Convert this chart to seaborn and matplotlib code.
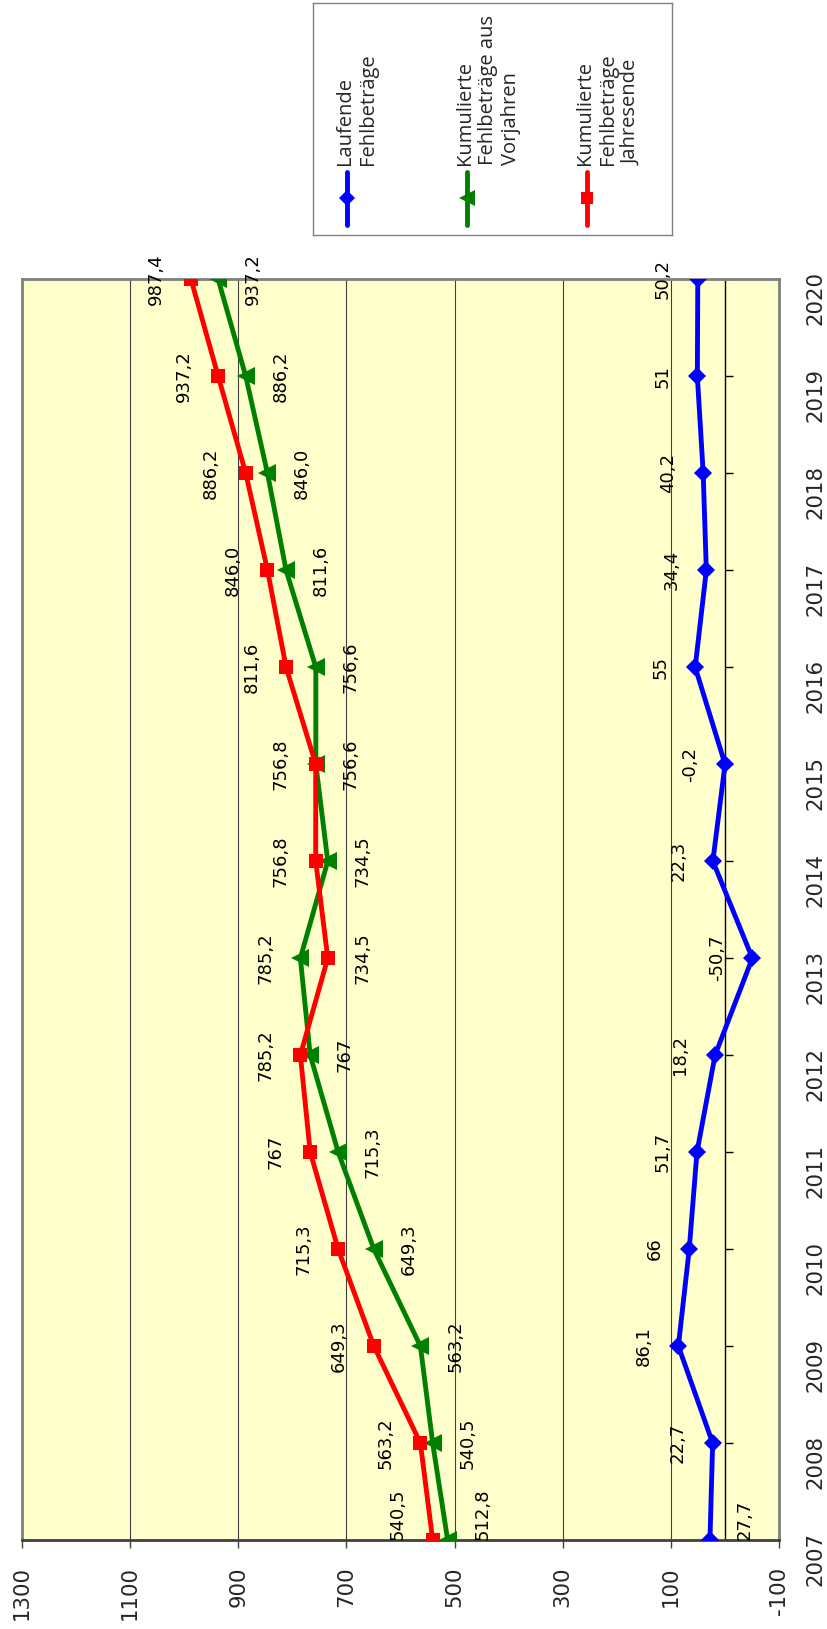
import pandas as pd
import seaborn as sns
import matplotlib.pyplot as plt

years = list(range(2007, 2021))
laufend = [27.7, 22.7, 86.1, 66, 51.7, 18.2, -50.7, 22.3, -0.2, 55, 34.4, 40.2, 51, 50.2]
vorjahre = [512.8, 540.5, 563.2, 649.3, 715.3, 767, 785.2, 734.5, 756.6, 756.6, 811.6, 846.0, 886.2, 937.2]
jahresende = [540.5, 563.2, 649.3, 715.3, 767, 785.2, 734.5, 756.8, 756.8, 811.6, 846.0, 886.2, 937.2, 987.4]

lbl_laufend = ["27,7", "22,7", "86,1", "66", "51,7", "18,2", "-50,7", "22,3", "-0,2", "55", "34,4", "40,2", "51", "50,2"]
lbl_vorjahre = ["512,8", "540,5", "563,2", "649,3", "715,3", "767", "785,2", "734,5", "756,6", "756,6", "811,6", "846,0", "886,2", "937,2"]
lbl_jahresende = ["540,5", "563,2", "649,3", "715,3", "767", "785,2", "734,5", "756,8", "756,8", "811,6", "846,0", "886,2", "937,2", "987,4"]

value_ticks = [1300, 1100, 900, 700, 500, 300, 100, -100]
value_labels = ["1300", "1100", "900", "700", "500", "300", "100", "-100"]

legend_names = ["Laufende\nFehlbeträge", "Kumulierte\nFehlbeträge aus\nVorjahren", "Kumulierte\nFehlbeträge\nJahresende"]

sns.set_theme(style="white")
plt.rcParams["font.family"] = ["DejaVu Sans"]

W, H = 827, 1629
fig = plt.figure(figsize=(W / 100, H / 100), dpi=100)
ax = fig.add_axes([22 / W, 89 / H, 757 / W, 1260.7 / H])
ax.set_facecolor("#FFFFCC")

series = [
    ("blau", laufend, lbl_laufend, "#0000FF", "D", 9.5),
    ("gruen", vorjahre, lbl_vorjahre, "#008000", "<", 13),
    ("rot", jahresende, lbl_jahresende, "#FF0000", "s", 10.5),
]

OFF = 25  # label distance from the marker, points
for name, vals, lbls, col, mk, ms in series:
    df = pd.DataFrame({"Jahr": years, "Wert": vals})
    sns.lineplot(data=df, x="Wert", y="Jahr", orient="y", color=col, marker=mk,
                 markersize=ms, markeredgewidth=0, lw=3.5, ax=ax, zorder=4)
    for i, (y, v, t) in enumerate(zip(years, vals, lbls)):
        if name == "blau":
            side = 1 if i == 0 else -1
        else:
            # the higher of the two cumulative lines gets its label on the left
            other = vorjahre[i] if name == "rot" else jahresende[i]
            higher = v > other or (v == other and name == "rot") or (name == "rot" and v >= other)
            side = -1 if higher else 1
        va = "bottom" if i == 0 else "center"
        ax.annotate(t, (v, y), xytext=(side * OFF, 0), textcoords="offset points",
                    rotation=90, ha="center", va=va, fontsize=13,
                    color="black", annotation_clip=False, zorder=5)

ax.set_xlim(1300, -100)
ax.set_ylim(2007, 2020)

for v in value_ticks:
    ax.axvline(v, color="#404040", lw=0.8, zorder=1)
ax.axvline(0, color="black", lw=1, zorder=2)
ax.hlines(years, 0, -15, color="black", lw=1, zorder=2)

ax.set_xticks(value_ticks)
ax.set_xticklabels(value_labels)
ax.set_yticks(years)
ax.set_yticklabels([str(y) for y in years])
ax.yaxis.tick_right()
ax.tick_params(axis="x", bottom=True, length=6, width=1, color="#404040",
               direction="out", pad=13, labelrotation=90, labelsize=15.3)
ax.tick_params(axis="y", length=0, pad=19, labelrotation=90, labelsize=15.3)
ax.set_xlabel("")
ax.set_ylabel("")

for s in ["top", "left", "right"]:
    ax.spines[s].set_color("#808080")
    ax.spines[s].set_linewidth(2)
ax.spines["bottom"].set_color("#404040")
ax.spines["bottom"].set_linewidth(2)

# legend, drawn by hand because it is rotated
lax = fig.add_axes([312.7 / W, 1 - 235 / H, 359.3 / W, 231.7 / H])
lax.set_xlim(312.7, 672)
lax.set_ylim(235, 3.3)
lax.set_xticks([])
lax.set_yticks([])
lax.set_facecolor("white")
for s in lax.spines.values():
    s.set_color("#808080")
    s.set_linewidth(1)
for i, (name, vals, lbls, col, mk, ms) in enumerate(series):
    x = 346.7 + 120 * i
    lax.plot([x, x, x], [172, 198, 225], color=col, lw=3.5, marker=mk,
             markersize=ms * 0.85, markeredgewidth=0, markevery=[1],
             solid_capstyle="round")
    lax.text(x - 12, 165, legend_names[i], rotation=90, ha="left", va="bottom",
             fontsize=14.5, linespacing=1.22, family=["Open Sans", "DejaVu Sans"])

fig.savefig("out.png", dpi=100)
